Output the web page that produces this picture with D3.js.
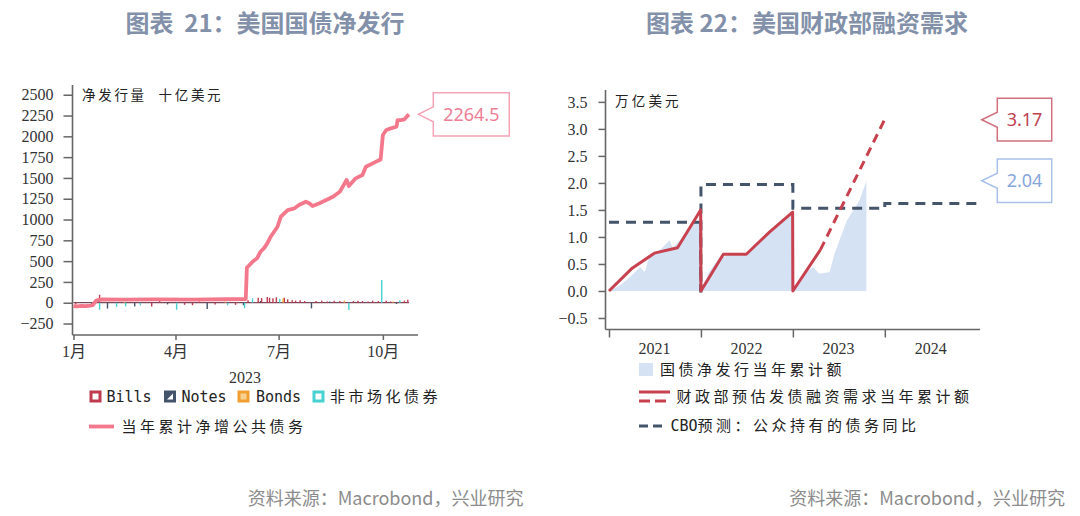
<!DOCTYPE html>
<html lang="zh">

<head>
  <meta charset="UTF-8">
  <title>美国国债净发行 / 美国财政部融资需求</title>
  <script src="https://cdn.jsdelivr.net/npm/d3@7"></script>
</head>

<body>

</body>
<style>
  body {
    margin: 0;
    padding: 0;
    background: #fff;
  }

  svg {
    display: block;
  }

  .title {
    font-family: "Noto Sans CJK SC", sans-serif;
    font-weight: 700;
    font-size: 24px;
    fill: #8291a9;
    white-space: pre;
  }

  .source {
    font-family: "Noto Sans CJK SC", sans-serif;
    font-size: 18px;
    fill: #8c8c8c;
  }

  .tick text,
  .axis-label {
    font-family: "Liberation Serif", "Noto Sans CJK SC", serif;
    font-size: 16px;
    fill: #333;
  }

  .legend {
    font-family: "Noto Sans CJK SC", sans-serif;
    font-size: 15px;
    letter-spacing: 3.5px;
    fill: #222;
  }

  .legend .latin {
    font-family: "DejaVu Sans Mono", monospace;
    font-size: 15px;
    letter-spacing: 0;
  }

  .unit {
    font-family: "Noto Sans CJK SC", sans-serif;
    font-size: 13.5px;
    fill: #222;
  }

  .callout {
    font-family: "Noto Sans", sans-serif;
    font-size: 18px;
  }
</style>
<script>
  // ---- 图表21：美国国债净发行 (2023, 十亿美元) ----
  const cumDates = ["01-01", "01-04", "01-08", "01-12", "01-16", "01-18", "01-21", "01-25", "02-15", "03-15", "04-15",
    "05-15", "06-02", "06-03", "06-08", "06-12", "06-15", "06-18", "06-21", "06-24", "06-27", "06-30", "07-03", "07-06",
    "07-09", "07-15", "07-19", "07-25", "07-28", "07-31", "08-06", "08-12", "08-18", "08-24", "08-30", "09-01", "09-07",
    "09-13", "09-16", "09-22", "09-28", "09-29", "10-01", "10-04", "10-08", "10-13", "10-14", "10-17", "10-20", "10-22",
    "10-24"]
  const cumValues = [-40, -45, -38, -42, -35, -30, 25, 40, 38, 40, 38,
    42, 45, 420, 493, 534, 613, 654, 714, 793, 853, 913, 1034, 1075,
    1114, 1135, 1174, 1214, 1195, 1162, 1195, 1234, 1274, 1334, 1475, 1403, 1495,
    1535, 1635, 1675, 1715, 1720, 2016, 2076, 2096, 2115, 2196, 2196, 2204, 2236,
    2264.5]

  const billsDates = ["01-03", "01-24", "03-11", "03-18", "04-09", "04-16", "04-22", "05-06", "05-24", "06-04", "06-13",
    "06-16", "06-21", "06-23", "06-26", "06-29", "07-06", "07-09", "07-13", "07-16", "07-20", "07-24", "08-03", "08-08",
    "08-13", "08-19", "08-24", "09-05", "09-09", "09-13", "09-18", "09-22", "09-27", "10-04", "10-08", "10-20", "10-23"]
  const billsValues = [-20, 95, -45, 20, -25, -30, 15, -20, -25, 30, 60,
    55, 70, 60, 55, 65, 60, 40, 30, 25, 30, 20, 20, 25,
    15, 25, 20, 20, 25, 20, 15, 25, 20, 25, 15, 25, 35]

  const notesDates = ["01-17", "01-31", "02-24", "03-25", "04-29", "05-31", "06-15", "07-30", "08-15", "09-15", "10-13"]
  const notesValues = [-25, -70, -45, -20, -75, -30, 20, -68, 15, 10, -15]

  const bondsDates = ["02-15", "05-15", "07-05", "08-28", "10-10"]
  const bondsValues = [10, 12, 50, 25, 15]

  const nonMktDates = ["01-24", "02-08", "02-16", "03-01", "04-02", "05-17", "06-01", "06-08", "07-02", "09-01", "09-30", "10-16"]
  const nonMktValues = [-85, -50, -45, -30, -85, -30, -65, 52, 45, -88, 272, 30]

  const leftYTicks = [-250, 0, 250, 500, 750, 1000, 1250, 1500, 1750, 2000, 2250, 2500]
  const monthTicks = ["01-01", "04-01", "07-01", "10-01"]
  const monthLabels = ["1月", "4月", "7月", "10月"]

  // ---- 图表22：美国财政部融资需求 (万亿美元) ----
  const areaDates = ["2021-01-01", "2021-02-13", "2021-03-25", "2021-05-04", "2021-05-23", "2021-06-12", "2021-07-22",
    "2021-08-30", "2021-09-11", "2021-10-21", "2021-11-30", "2021-12-31", "2022-01-01", "2022-02-02", "2022-03-13",
    "2022-04-21", "2022-06-20", "2022-08-19", "2022-09-27", "2022-11-05", "2022-12-31", "2023-01-01", "2023-02-09",
    "2023-03-21", "2023-04-17", "2023-05-27", "2023-06-16", "2023-08-03", "2023-09-23", "2023-10-20"]
  const areaValues = [0, 0.1, 0.26, 0.44, 0.35, 0.67, 0.76,
    0.94, 0.8, 1.0, 1.26, 1.28, 0, 0.35, 0.6,
    0.66, 0.66, 0.9, 1.1, 1.25, 1.45, 0, 0.3,
    0.44, 0.32, 0.35, 0.7, 1.3, 1.68, 2.04]

  const fundDates = ["2021-01-01", "2021-03-31", "2021-06-30", "2021-09-30", "2021-12-31", "2022-01-01", "2022-03-31",
    "2022-06-30", "2022-09-30", "2022-12-31", "2023-01-01", "2023-04-20"]
  const fundValues = [0, 0.41, 0.70, 0.80, 1.50, 0, 0.68, 0.68, 1.09, 1.46, 0, 0.76]
  const projDates = ["2023-04-20", "2023-12-31"]
  const projValues = [0.76, 3.17]

  // the CBO series dips to 0 at the 2021/2022 boundary in the source chart
  const cboDates = ["2021-01-01", "2021-12-31", "2022-01-01", "2023-01-01", "2024-01-01", "2024-12-31"]
  const cboValues = [1.27, 0, 1.97, 1.53, 1.62, 1.62]

  const rightYTicks = [-0.5, 0, 0.5, 1, 1.5, 2, 2.5, 3, 3.5]
  const years = ["2021", "2022", "2023", "2024"]

  const width = 1080
  const height = 516
  const axisColor = "#666"

  const parseL = d => new Date(`2023-${d}T00:00:00`)
  const parseR = d => new Date(`${d}T00:00:00`)
  const zip = (dates, values, parse) => dates.map((d, i) => ({ date: parse(d), value: values[i] }))

  const svg = d3.select("body").append("svg")
    .attr("width", width)
    .attr("height", height)

  function callout(g, tipX, tipY, boxX, boxW, boxH, label, stroke, color) {
    const top = tipY - boxH / 2
    const bot = tipY + boxH / 2
    const n = 7.5
    const p = d3.path()
    p.moveTo(boxX, top)
    p.lineTo(boxX + boxW, top)
    p.lineTo(boxX + boxW, bot)
    p.lineTo(boxX, bot)
    p.lineTo(boxX, tipY + n)
    p.lineTo(tipX, tipY)
    p.lineTo(boxX, tipY - n)
    p.closePath()
    g.append("path")
      .attr("d", p.toString())
      .attr("fill", "#fff")
      .attr("stroke", stroke)
      .attr("stroke-width", 1.5)
    g.append("text")
      .attr("class", "callout")
      .attr("x", boxX + boxW / 2)
      .attr("y", tipY)
      .attr("dy", "0.35em")
      .attr("text-anchor", "middle")
      .attr("fill", color)
      .text(label)
  }

  function styleAxis(g) {
    g.select(".domain").remove()
    g.selectAll(".tick line").attr("stroke", axisColor).attr("stroke-width", 1.5)
  }

  // ================= left chart =================
  const xL = d3.scaleTime().domain([parseL("01-01"), parseL("11-01")]).range([73.5, 418])
  const yL = d3.scaleLinear().domain([-388, 2617]).range([335, 85])
  const gL = svg.append("g")

  gL.append("text").attr("class", "title")
    .attr("x", 265).attr("y", 23.5).attr("dy", "0.35em")
    .attr("text-anchor", "middle")
    .text("图表  21：美国国债净发行")

  gL.append("g")
    .attr("transform", "translate(72.5,0)")
    .call(d3.axisLeft(yL).tickValues(leftYTicks).tickSize(9).tickPadding(10).tickFormat(d3.format("d")))
    .call(styleAxis)

  gL.append("g")
    .attr("transform", "translate(0,335)")
    .call(d3.axisBottom(xL).tickValues(monthTicks.map(parseL)).tickSize(5).tickPadding(6)
      .tickFormat((d, i) => monthLabels[i]))
    .call(styleAxis)

  gL.append("line").attr("x1", 72.5).attr("x2", 72.5).attr("y1", 85).attr("y2", 335)
    .attr("stroke", axisColor).attr("stroke-width", 1.6)
  gL.append("line").attr("x1", 72.5).attr("x2", 418).attr("y1", 335).attr("y2", 335)
    .attr("stroke", axisColor).attr("stroke-width", 1.6)

  gL.append("text").attr("class", "axis-label")
    .attr("x", 245).attr("y", 377).attr("dy", "0.35em").attr("text-anchor", "middle")
    .text("2023")

  gL.append("text").attr("class", "unit").attr("x", 82).attr("y", 95).attr("dy", "0.35em")
    .attr("letter-spacing", 2.7).text("净发行量")
  gL.append("text").attr("class", "unit").attr("x", 158.5).attr("y", 95).attr("dy", "0.35em")
    .attr("letter-spacing", 2.7).text("十亿美元")

  const barSeries = [
    { name: "Bills", data: zip(billsDates, billsValues, parseL), color: "#c0394f" },
    { name: "Notes", data: zip(notesDates, notesValues, parseL), color: "#44546a" },
    { name: "Bonds", data: zip(bondsDates, bondsValues, parseL), color: "#f0a030" },
    { name: "非市场化债券", data: zip(nonMktDates, nonMktValues, parseL), color: "#48d1d1" }
  ]

  // dense daily bars read as a thin band along zero
  const cum = zip(cumDates, cumValues, parseL)
  gL.append("line")
    .attr("x1", xL(cum[0].date)).attr("x2", xL(cum[cum.length - 1].date))
    .attr("y1", yL(0)).attr("y2", yL(0))
    .attr("stroke", "#7b4a5a").attr("stroke-width", 1.2)

  barSeries.forEach(s => {
    gL.append("g")
      .selectAll("line")
      .data(s.data)
      .join("line")
      .attr("x1", d => xL(d.date))
      .attr("x2", d => xL(d.date))
      .attr("y1", yL(0))
      .attr("y2", d => yL(d.value))
      .attr("stroke", s.color)
      .attr("stroke-width", 1.4)
  })

  gL.append("path")
    .datum(cum)
    .attr("fill", "none")
    .attr("stroke", "#f4788c")
    .attr("stroke-width", 3.8)
    .attr("stroke-linejoin", "round")
    .attr("d", d3.line().x(d => xL(d.date)).y(d => yL(d.value)))

  const lastCum = cum[cum.length - 1]
  callout(gL, xL(lastCum.date) + 9.5, yL(lastCum.value), 433.3, 76, 43.3,
    d3.format(".1f")(lastCum.value), "#f5a3b5", "#ee7d96")

  // left legend
  const legL = gL.append("g")
  const iconX = [89.5, 164, 237.5, 312.5]
  const textX = [106.5, 181.5, 256, 330]
  barSeries.forEach((s, i) => {
    const ix = iconX[i]
    legL.append("rect").attr("x", ix).attr("y", 390.5).attr("width", 12).attr("height", 12).attr("fill", s.color)
    if (s.name === "Notes") {
      legL.append("path").attr("d", `M${ix + 3},${399.5}L${ix + 9},${393.5}L${ix + 9},${399.5}Z`).attr("fill", "#fff")
    } else if (s.name === "Bonds") {
      legL.append("rect").attr("x", ix + 3).attr("y", 393.5).attr("width", 6).attr("height", 6).attr("fill", "#f8d090")
    } else {
      legL.append("rect").attr("x", ix + 3).attr("y", 393.5).attr("width", 6).attr("height", 6).attr("fill", "#fff")
    }
    const t = legL.append("text").attr("class", "legend").attr("x", textX[i]).attr("y", 396.5).attr("dy", "0.36em")
    if (/^[A-Za-z]+$/.test(s.name)) t.append("tspan").attr("class", "latin").text(s.name)
    else t.text(s.name)
  })
  legL.append("line").attr("x1", 89).attr("x2", 114).attr("y1", 426.5).attr("y2", 426.5)
    .attr("stroke", "#f4788c").attr("stroke-width", 3.8)
  legL.append("text").attr("class", "legend").attr("x", 121.5).attr("y", 426.5).attr("dy", "0.36em")
    .text("当年累计净增公共债务")

  gL.append("text").attr("class", "source")
    .attr("x", 523.5).attr("y", 499).attr("dy", "0.35em").attr("text-anchor", "end")
    .text("资料来源：Macrobond，兴业研究")

  // ================= right chart =================
  const xR = d3.scaleTime().domain([parseR("2021-01-01"), parseR("2025-01-01")]).range([609, 977])
  const yR = d3.scaleLinear().domain([-0.713, 3.72]).range([329.5, 90])
  const gR = svg.append("g")

  gR.append("text").attr("class", "title")
    .attr("x", 807).attr("y", 23.5).attr("dy", "0.35em")
    .attr("text-anchor", "middle")
    .text("图表 22：美国财政部融资需求")

  gR.append("g")
    .attr("transform", "translate(605.5,0)")
    .call(d3.axisLeft(yR).tickValues(rightYTicks).tickSize(7).tickPadding(11).tickFormat(d3.format(".1f")))
    .call(styleAxis)

  gR.append("g")
    .attr("transform", "translate(0,329.5)")
    .call(d3.axisBottom(xR).tickValues(years.map(y => parseR(`${y}-01-01`))).tickSize(8).tickFormat(""))
    .call(styleAxis)

  gR.append("g")
    .selectAll("text")
    .data(years)
    .join("text")
    .attr("class", "axis-label")
    .attr("x", d => xR(parseR(`${d}-07-01`)))
    .attr("y", 348)
    .attr("dy", "0.35em")
    .attr("text-anchor", "middle")
    .text(d => d)

  gR.append("line").attr("x1", 605.5).attr("x2", 605.5).attr("y1", 90).attr("y2", 329.5)
    .attr("stroke", axisColor).attr("stroke-width", 1.6)
  gR.append("line").attr("x1", 605.5).attr("x2", 980).attr("y1", 329.5).attr("y2", 329.5)
    .attr("stroke", axisColor).attr("stroke-width", 1.6)

  gR.append("text").attr("class", "unit").attr("x", 615).attr("y", 101).attr("dy", "0.35em")
    .attr("letter-spacing", 3.2).text("万亿美元")

  const area = zip(areaDates, areaValues, parseR)
  gR.append("path")
    .datum(area)
    .attr("fill", "#d5e2f4")
    .attr("d", d3.area().x(d => xR(d.date)).y0(yR(0)).y1(d => yR(d.value)))

  gR.append("path")
    .datum(zip(cboDates, cboValues, parseR))
    .attr("fill", "none")
    .attr("stroke", "#44546a")
    .attr("stroke-width", 3)
    .attr("stroke-dasharray", "10,7")
    .attr("d", d3.line().curve(d3.curveStepAfter).x(d => xR(d.date)).y(d => yR(d.value)))

  gR.append("path")
    .datum(zip(fundDates, fundValues, parseR))
    .attr("fill", "none")
    .attr("stroke", "#c8414f")
    .attr("stroke-width", 3)
    .attr("stroke-linejoin", "round")
    .attr("d", d3.line().x(d => xR(d.date)).y(d => yR(d.value)))

  const proj = zip(projDates, projValues, parseR)
  gR.append("path")
    .datum(proj)
    .attr("fill", "none")
    .attr("stroke", "#c8414f")
    .attr("stroke-width", 3)
    .attr("stroke-dasharray", "9,6")
    .attr("d", d3.line().x(d => xR(d.date)).y(d => yR(d.value)))

  const lastProj = proj[proj.length - 1]
  const lastArea = area[area.length - 1]
  callout(gR, 981.7, yR(lastProj.value), 997.3, 54.4, 42.7, lastProj.value.toFixed(2), "#d0707c", "#c0404f")
  callout(gR, 981.7, yR(lastArea.value), 997.3, 54.4, 43.4, lastArea.value.toFixed(2), "#a9c1ea", "#86a6dc")

  // right legend
  const legR = gR.append("g")
  legR.append("rect").attr("x", 639).attr("y", 363).attr("width", 14).attr("height", 13).attr("fill", "#d5e2f4")
  legR.append("text").attr("class", "legend").attr("x", 660).attr("y", 369.5).attr("dy", "0.36em")
    .text("国债净发行当年累计额")

  legR.append("line").attr("x1", 639).attr("x2", 670).attr("y1", 392).attr("y2", 392)
    .attr("stroke", "#c8414f").attr("stroke-width", 3)
  legR.append("line").attr("x1", 639).attr("x2", 670).attr("y1", 401).attr("y2", 401)
    .attr("stroke", "#c8414f").attr("stroke-width", 3).attr("stroke-dasharray", "11,5")
  legR.append("text").attr("class", "legend").attr("x", 676.5).attr("y", 397).attr("dy", "0.36em")
    .text("财政部预估发债融资需求当年累计额")

  legR.append("line").attr("x1", 639).attr("x2", 667).attr("y1", 426).attr("y2", 426)
    .attr("stroke", "#44546a").attr("stroke-width", 3).attr("stroke-dasharray", "9,5")
  const cboText = legR.append("text").attr("class", "legend").attr("x", 670.5).attr("y", 426).attr("dy", "0.36em")
  cboText.append("tspan").attr("class", "latin").text("CBO")
  cboText.append("tspan").text("预测：公众持有的债务同比")

  gR.append("text").attr("class", "source")
    .attr("x", 1065).attr("y", 499).attr("dy", "0.35em").attr("text-anchor", "end")
    .text("资料来源：Macrobond，兴业研究")
</script>

</html>
